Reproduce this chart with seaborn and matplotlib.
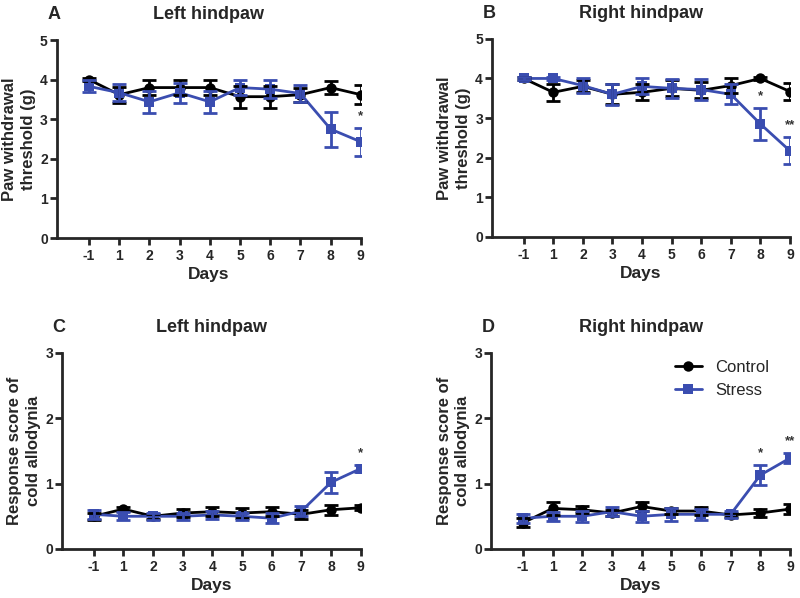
import matplotlib
matplotlib.use("Agg")
import matplotlib.pyplot as plt
import seaborn as sns
import numpy as np
import pandas as pd

sns.set_style("ticks")
plt.rcParams['font.family'] = ['Liberation Sans', 'DejaVu Sans']

# data
days = ["-1", "1", "2", "3", "4", "5", "6", "7", "8", "9"]
groups = ["Control", "Stress"]

# A: left hindpaw, von Frey
a_ctrl = [4.00, 3.62, 3.80, 3.80, 3.80, 3.57, 3.57, 3.62, 3.80, 3.62]
a_ctrl_sem = [0.04, 0.20, 0.20, 0.20, 0.20, 0.28, 0.28, 0.18, 0.17, 0.24]
a_str = [3.83, 3.67, 3.44, 3.67, 3.44, 3.80, 3.76, 3.65, 2.75, 2.43]
a_str_sem = [0.15, 0.22, 0.28, 0.25, 0.28, 0.20, 0.22, 0.22, 0.44, 0.35]
a_stars = {9: "*"}

# B: right hindpaw, von Frey
b_ctrl = [4.00, 3.65, 3.80, 3.60, 3.65, 3.75, 3.70, 3.82, 4.00, 3.67]
b_ctrl_sem = [0.03, 0.22, 0.15, 0.25, 0.20, 0.20, 0.20, 0.18, 0.04, 0.22]
b_str = [4.00, 4.00, 3.82, 3.60, 3.80, 3.75, 3.72, 3.60, 2.85, 2.17]
b_str_sem = [0.03, 0.03, 0.18, 0.26, 0.20, 0.24, 0.26, 0.25, 0.40, 0.34]
b_stars = {8: "*", 9: "**"}

# C: left hindpaw, cold allodynia
c_ctrl = [0.50, 0.61, 0.50, 0.55, 0.57, 0.55, 0.57, 0.53, 0.60, 0.63]
c_ctrl_sem = [0.05, 0.03, 0.04, 0.06, 0.07, 0.07, 0.07, 0.07, 0.08, 0.04]
c_str = [0.53, 0.50, 0.50, 0.50, 0.52, 0.50, 0.47, 0.58, 1.02, 1.23]
c_str_sem = [0.07, 0.06, 0.05, 0.05, 0.06, 0.05, 0.08, 0.07, 0.16, 0.06]
c_stars = {9: "*"}

# D: right hindpaw, cold allodynia
d_ctrl = [0.40, 0.62, 0.60, 0.55, 0.65, 0.58, 0.58, 0.52, 0.55, 0.61]
d_ctrl_sem = [0.07, 0.10, 0.05, 0.05, 0.07, 0.05, 0.06, 0.03, 0.06, 0.08]
d_str = [0.47, 0.50, 0.50, 0.57, 0.50, 0.53, 0.53, 0.53, 1.13, 1.39]
d_str_sem = [0.07, 0.07, 0.08, 0.07, 0.08, 0.10, 0.08, 0.05, 0.15, 0.08]
d_stars = {8: "*", 9: "**"}

BLUE = "#3a4db0"
palette = {"Control": "black", "Stress": BLUE}
markers = {"Control": "o", "Stress": "s"}


def make_df(ctrl, ctrl_sem, stress, stress_sem):
    rows = []
    for i, d in enumerate(days):
        rows.append(dict(idx=i, day=d, group="Control", mean=ctrl[i], sem=ctrl_sem[i]))
        rows.append(dict(idx=i, day=d, group="Stress", mean=stress[i], sem=stress_sem[i]))
    return pd.DataFrame(rows)


def panel(fig, rect, df, letter, title, ylabel, ymax, stars, legend=False):
    ax = fig.add_axes(rect)
    sns.lineplot(data=df, x="idx", y="mean", hue="group", style="group",
                 hue_order=groups, palette=palette, markers=markers, dashes=False,
                 markersize=7.5, linewidth=2, markeredgewidth=0, ax=ax, legend=legend)
    for g in groups:
        sub = df[df.group == g]
        ax.errorbar(sub["idx"], sub["mean"], yerr=sub["sem"], fmt="none",
                    ecolor=palette[g], elinewidth=2, capsize=5, capthick=2, zorder=3)
    # stars over the stress error bars
    st = df[df.group == "Stress"].set_index("idx")
    for i, s in stars.items():
        top = st.loc[i, "mean"] + st.loc[i, "sem"]
        ax.text(i, top + ymax * 0.03, s, ha="center", va="bottom", fontsize=9.5,
                fontweight="bold", color="#333333")
    ax.set_xlim(-1.07, 9.0)
    ax.set_ylim(0, ymax)
    ax.set_yticks(range(0, ymax + 1))
    ax.set_xticks(range(len(days)))
    ax.set_xticklabels(days)
    ax.tick_params(axis="both", labelsize=10, width=2, length=5, direction="out", pad=3)
    ax.tick_params(axis="y", pad=1.5)
    for lab in ax.get_xticklabels() + ax.get_yticklabels():
        lab.set_fontweight("bold")
    ax.set_xlabel("Days", fontsize=12.5, fontweight="bold", labelpad=3)
    ax.set_ylabel(ylabel, fontsize=12, fontweight="bold", linespacing=1.3, labelpad=3)
    ax.set_title(title, fontsize=13, fontweight="bold", pad=15)
    ax.annotate(letter, xy=(0, 1), xycoords="axes fraction", xytext=(-2, 15),
                textcoords="offset points", ha="center", va="baseline",
                fontsize=13, fontweight="bold")
    sns.despine(ax=ax)
    for sp in ["left", "bottom"]:
        ax.spines[sp].set_linewidth(2)
    if legend:
        ax.legend(title=None, frameon=False, fontsize=12, loc="upper right",
                  bbox_to_anchor=(0.98, 1.04), handlelength=1.6, labelspacing=0.5)
    return ax


fig = plt.figure(figsize=(8, 5.98), dpi=100)

ylab_vf = "Paw withdrawal\nthreshold (g)"
ylab_cold = "Response score of\ncold allodynia"

panel(fig, [0.071, 0.602, 0.380, 0.331], make_df(a_ctrl, a_ctrl_sem, a_str, a_str_sem),
      "A", "Left hindpaw", ylab_vf, 5, a_stars)
panel(fig, [0.615, 0.604, 0.3725, 0.331], make_df(b_ctrl, b_ctrl_sem, b_str, b_str_sem),
      "B", "Right hindpaw", ylab_vf, 5, b_stars)
panel(fig, [0.0775, 0.082, 0.3735, 0.328], make_df(c_ctrl, c_ctrl_sem, c_str, c_str_sem),
      "C", "Left hindpaw", ylab_cold, 3, c_stars)
panel(fig, [0.614, 0.082, 0.3735, 0.328], make_df(d_ctrl, d_ctrl_sem, d_str, d_str_sem),
      "D", "Right hindpaw", ylab_cold, 3, d_stars, legend=True)

fig.savefig("out.png", dpi=100)
